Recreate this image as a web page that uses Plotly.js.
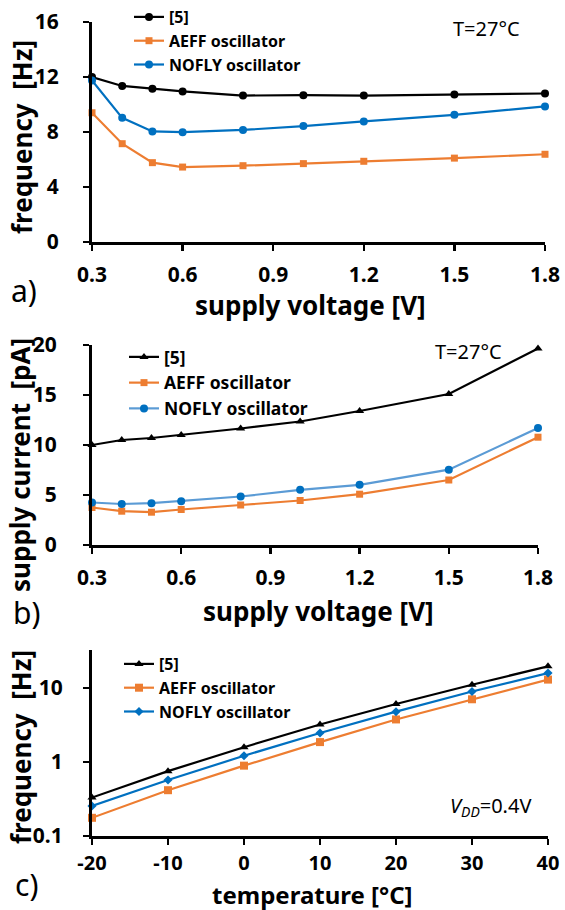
<!DOCTYPE html>
<html>
<head>
<meta charset="utf-8">
<script src="https://cdn.plot.ly/plotly-3.0.1.min.js"></script>
<style>html,body{margin:0;padding:0;background:#fff;}#chart{width:565px;height:910px;}</style>
</head>
<body>
<div id="chart"></div>
<script>
// ---- data ----
const vdd = [0.3, 0.4, 0.5, 0.6, 0.8, 1.0, 1.2, 1.5, 1.8];
const freqRef5 = [12.0, 11.35, 11.15, 10.95, 10.65, 10.68, 10.65, 10.72, 10.8];
const freqAeff = [9.4, 7.15, 5.77, 5.45, 5.55, 5.7, 5.87, 6.1, 6.38];
const freqNofly = [11.75, 9.03, 8.04, 7.99, 8.15, 8.43, 8.77, 9.25, 9.86];

const currRef5 = [10.0, 10.5, 10.7, 11.0, 11.65, 12.35, 13.4, 15.1, 19.65];
const currAeff = [3.75, 3.38, 3.28, 3.55, 4.0, 4.45, 5.08, 6.5, 10.78];
const currNofly = [4.25, 4.1, 4.18, 4.38, 4.85, 5.52, 6.02, 7.53, 11.7];

const temp = [-20, -10, 0, 10, 20, 30, 40];
const tfRef5 = [0.33, 0.75, 1.58, 3.2, 6.05, 11.0, 19.5];
const tfAeff = [0.176, 0.415, 0.89, 1.85, 3.74, 7.0, 12.9];
const tfNofly = [0.254, 0.569, 1.21, 2.46, 4.76, 8.9, 15.8];

const seriesNames = ['[5]', 'AEFF oscillator', 'NOFLY oscillator'];
const vddTickVals = [0.3, 0.6, 0.9, 1.2, 1.5, 1.8];
const vddTickText = ['0.3', '0.6', '0.9', '1.2', '1.5', '1.8'];
const tempTickVals = [-20, -10, 0, 10, 20, 30, 40];
const tempTickText = ['-20', '-10', '0', '10', '20', '30', '40'];
const logTickVals = [0.1, 1, 10];
const logTickText = ['0.1', '1', '10'];

// ---- styling ----
const W = 565, H = 910;
const px = x => x / W;
const py = y => 1 - y / H;
const BLACK = '#000000', ORANGE = '#ED7D31', BLUE = '#0070C0', LBLUE = '#5B9BD5';
const FONT = 'Noto Sans, Open Sans, sans-serif';

function tr(x, y, name, color, lineColor, symbol, msize, xa, ya, legend) {
  return {
    x: x, y: y, name: name, type: 'scatter', mode: 'lines+markers',
    xaxis: xa, yaxis: ya, legend: legend, cliponaxis: false,
    line: {color: lineColor, width: 2.2},
    marker: {color: color, symbol: symbol, size: msize}
  };
}

const data = [
  tr(vdd, freqRef5, seriesNames[0], BLACK, BLACK, 'circle', 8, 'x', 'y', 'legend'),
  tr(vdd, freqAeff, seriesNames[1], ORANGE, ORANGE, 'square', 7, 'x', 'y', 'legend'),
  tr(vdd, freqNofly, seriesNames[2], BLUE, BLUE, 'circle', 8, 'x', 'y', 'legend'),
  tr(vdd, currRef5, seriesNames[0], BLACK, BLACK, 'triangle-up', 8, 'x2', 'y2', 'legend2'),
  tr(vdd, currAeff, seriesNames[1], ORANGE, ORANGE, 'square', 7, 'x2', 'y2', 'legend2'),
  tr(vdd, currNofly, seriesNames[2], BLUE, LBLUE, 'circle', 8, 'x2', 'y2', 'legend2'),
  tr(temp, tfRef5, seriesNames[0], BLACK, BLACK, 'triangle-up', 8, 'x3', 'y3', 'legend3'),
  tr(temp, tfAeff, seriesNames[1], ORANGE, ORANGE, 'square', 8, 'x3', 'y3', 'legend3'),
  tr(temp, tfNofly, seriesNames[2], BLUE, BLUE, 'diamond', 7, 'x3', 'y3', 'legend3')
];

const tickFont = {family: FONT, size: 21, color: BLACK, weight: 'bold'};
const tickFontC = {family: FONT, size: 20, color: BLACK, weight: 'bold'};
const titleFont = {family: FONT, size: 26, color: BLACK, weight: 'bold'};
const titleFontC = {family: FONT, size: 24, color: BLACK, weight: 'bold'};

function axis(extra) {
  return Object.assign({
    showgrid: false, zeroline: false, showline: true, linecolor: BLACK, linewidth: 3,
    ticks: 'outside', ticklen: 6, tickwidth: 2.5, tickcolor: BLACK,
    tickfont: tickFont, automargin: false, fixedrange: true
  }, extra);
}

function legendCfg(x, y, size) {
  return {
    x: x, y: y, xanchor: 'left', yanchor: 'top', bgcolor: 'rgba(0,0,0,0)',
    font: {family: FONT, size: size, color: BLACK, weight: 'bold'},
    traceorder: 'normal', itemclick: false
  };
}

function note(text, x, y, font, angle) {
  return {text: text, x: px(x), y: py(y), xref: 'paper', yref: 'paper', xanchor: 'center', yanchor: 'middle',
    textangle: angle || 0, showarrow: false, font: font};
}
const noteFont = size => ({family: FONT, size: size, color: BLACK});

const layout = {
  width: W, height: H,
  margin: {l: 0, r: 0, t: 0, b: 0},
  paper_bgcolor: '#ffffff', plot_bgcolor: '#ffffff',
  showlegend: true,
  xaxis: axis({domain: [px(92), px(545)], range: [0.3, 1.8], tickvals: vddTickVals, ticktext: vddTickText, anchor: 'y', ticklabelstandoff: 6}),
  yaxis: axis({domain: [py(242), py(22)], range: [0, 16], dtick: 4, tick0: 0, anchor: 'x', ticklabelstandoff: 20}),
  xaxis2: axis({domain: [px(92), px(538)], range: [0.3, 1.8], tickvals: vddTickVals, ticktext: vddTickText, anchor: 'y2', ticklabelstandoff: 6}),
  yaxis2: axis({domain: [py(545), py(345)], range: [0, 20], dtick: 5, tick0: 0, anchor: 'x2', ticklabelstandoff: 22}),
  xaxis3: axis({domain: [px(92), px(548)], range: [-20, 40], tickvals: tempTickVals, ticktext: tempTickText, anchor: 'y3', ticklabelstandoff: 1, tickfont: tickFontC}),
  yaxis3: axis({domain: [py(836), py(650)], type: 'log', range: [-1, 1.51], tickvals: logTickVals, ticktext: logTickText, anchor: 'x3', ticklabelstandoff: 16}),
  legend: legendCfg(px(129), py(0), 16),
  legend2: legendCfg(px(124), py(339), 17.5),
  legend3: legendCfg(px(119), py(647), 16),
  annotations: [
    // axis titles
    note('supply voltage [V]', 310, 305, titleFont),
    note('frequency  [Hz]', 22, 137, titleFont, -90),
    note('supply voltage [V]', 318, 611, titleFont),
    note('supply current  [pA]', 20, 465, titleFont, -90),
    note('temperature [°C]', 312, 894, titleFontC),
    note('frequency  [Hz]', 21, 747, titleFont, -90),
    // in-plot notes and panel labels
    note('T=27°C', 486, 28, noteFont(20)),
    note('T=27°C', 468, 352, noteFont(20)),
    note('<i>V</i><sub><i>DD</i></sub>=0.4V', 490, 806, noteFont(20)),
    note('a)', 24, 290, noteFont(30)),
    note('b)', 26, 612, noteFont(30)),
    note('c)', 26, 884, noteFont(30))
  ]
};

Plotly.newPlot('chart', data, layout, {staticPlot: true, displayModeBar: false});
</script>
</body>
</html>
